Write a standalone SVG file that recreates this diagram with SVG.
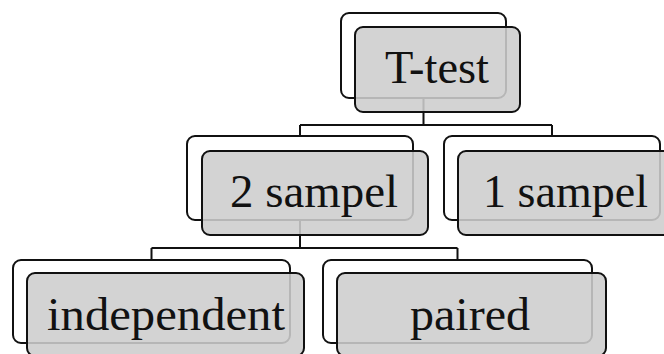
<svg xmlns="http://www.w3.org/2000/svg" width="664" height="354" viewBox="0 0 664 354">
<style>
.back{fill:#ffffff;stroke:#111111;stroke-width:2}
.front{fill:#cdcdcd;fill-opacity:0.88;stroke:#111111;stroke-width:2}
.lbl{font-family:"Liberation Serif","DejaVu Serif",serif;font-size:46px;fill:#111111;text-anchor:middle}
.conn{fill:none;stroke:#111111;stroke-width:2}
</style>
<rect width="664" height="354" fill="#ffffff"/>
<g id="connectors">
<path class="conn" d="M423.5 98 V125 M300 125 H552 M300 125 V136 M552 125 V136"/>
<path class="conn" d="M300 220 V248 M151.5 248 H457.5 M151.5 248 V260 M457.5 248 V260"/>
</g>
<g id="node-ttest">
<rect class="back" x="341" y="13" width="165" height="85" rx="8"/>
<rect class="front" x="355" y="27" width="165" height="85" rx="8"/>
<text class="lbl" x="437" y="83" textLength="104" lengthAdjust="spacingAndGlyphs">T-test</text>
</g>
<g id="node-2sampel">
<rect class="back" x="187" y="136" width="226" height="84" rx="8"/>
<rect class="front" x="202" y="151" width="226" height="84" rx="8"/>
<text class="lbl" x="314" y="207" textLength="168" lengthAdjust="spacingAndGlyphs">2 sampel</text>
</g>
<g id="node-1sampel">
<rect class="back" x="444" y="136" width="216" height="84" rx="8"/>
<rect class="front" x="458" y="151" width="216" height="84" rx="8"/>
<text class="lbl" x="565.5" y="207" textLength="165" lengthAdjust="spacingAndGlyphs">1 sampel</text>
</g>
<g id="node-independent">
<rect class="back" x="13" y="260" width="277" height="83" rx="8"/>
<rect class="front" x="27" y="273" width="277" height="83" rx="8"/>
<text class="lbl" x="166" y="330" textLength="238" lengthAdjust="spacingAndGlyphs">independent</text>
</g>
<g id="node-paired">
<rect class="back" x="323" y="260" width="269" height="83" rx="8"/>
<rect class="front" x="337" y="273" width="269" height="83" rx="8"/>
<text class="lbl" x="470" y="330" textLength="120" lengthAdjust="spacingAndGlyphs">paired</text>
</g>
</svg>
